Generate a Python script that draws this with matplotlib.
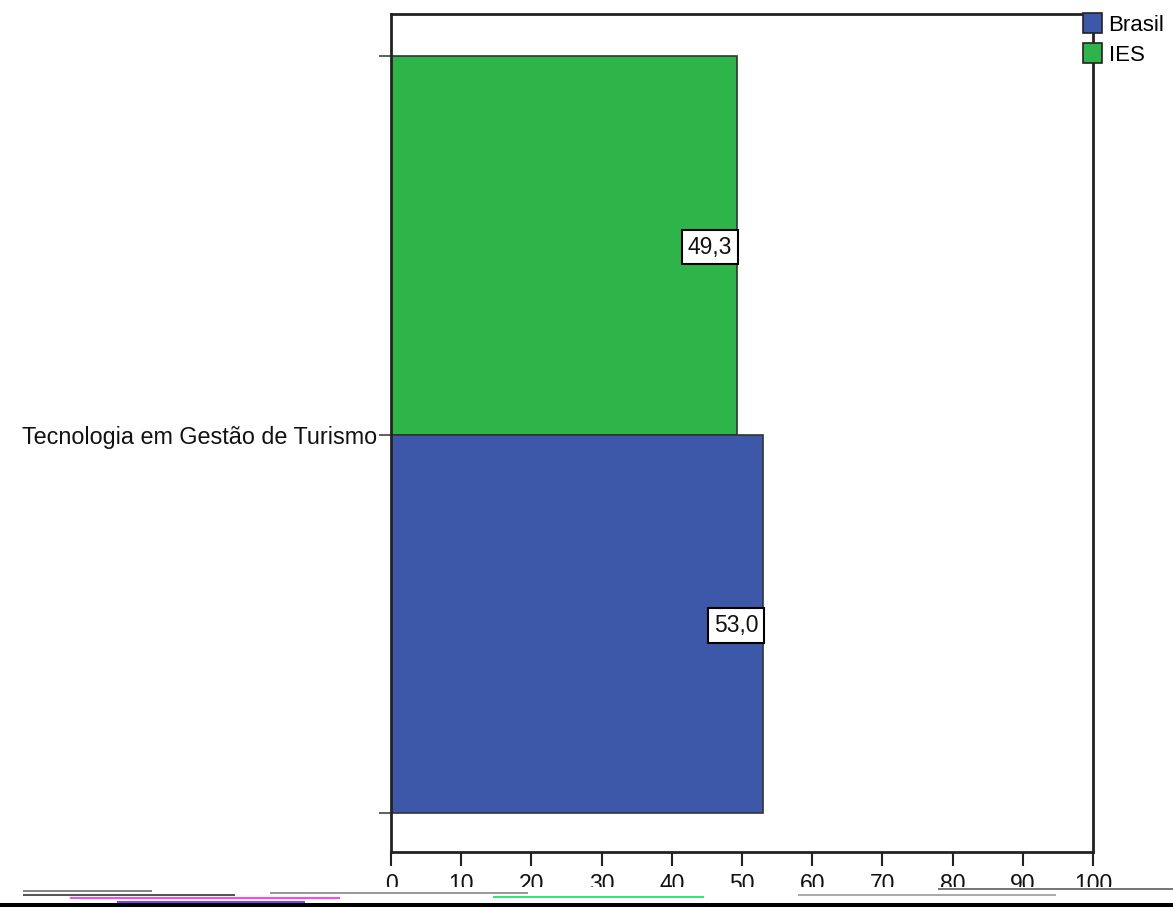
import matplotlib.pyplot as plt
from matplotlib.patches import Rectangle

plt.rcParams['font.family'] = ['Liberation Sans', 'DejaVu Sans']

categoria = "Tecnologia em Gestão de Turismo"
series = ["IES", "Brasil"]
valores = [49.3, 53.0]
cores = {"Brasil": "#3d57a9", "IES": "#2eb54a"}
xticks = [0, 10, 20, 30, 40, 50, 60, 70, 80, 90, 100]

fig = plt.figure(figsize=(11.73, 9.07), dpi=100)
ax = fig.add_axes([391 / 1173, 55 / 907, 702 / 1173, 838 / 907])

# barras: IES em cima, Brasil em baixo
posicoes = [1, 0]
for pos, nome, val in zip(posicoes, series, valores):
    ax.barh(pos, val, height=1.0, color=cores[nome], edgecolor="#333333", linewidth=1.2, zorder=2)
    ax.text(val - 0.7, pos - 0.005, ("%.1f" % val).replace(".", ","), ha="right", va="center", fontsize=16.5,
            color="#111111",
            bbox=dict(boxstyle="square,pad=0.25", facecolor="white", edgecolor="black", linewidth=1.5), zorder=3)

ax.set_xlim(0, 100)
ax.set_ylim(-0.603, 1.611)
ax.set_xticks(xticks)
ax.set_xticklabels([str(t) for t in xticks], fontsize=16.5, color="#111111")
ax.set_yticks([-0.5, 0.5, 1.5])
ax.set_yticklabels(["", categoria, ""], fontsize=16.8, color="#111111")
ax.tick_params(axis="x", length=10, width=1.5, pad=5, color="#222222")
ax.tick_params(axis="y", length=9, width=1.2, pad=1, color="#444444")
for s in ax.spines.values():
    s.set_linewidth(2)
    s.set_color("#222222")

# legenda no canto superior direito, sem moldura
handles = [Rectangle((0, 0), 1, 1, facecolor=cores[n], edgecolor="#222222", linewidth=1.2) for n in ["Brasil", "IES"]]
fig.legend(handles, ["Brasil", "IES"], loc="upper left", bbox_to_anchor=(1083 / 1173, 1 - 13 / 907),
           frameon=False, fontsize=16, handlelength=0.85, handleheight=1.0, handletextpad=0.3,
           labelspacing=0.35, borderpad=0, borderaxespad=0)

# faixa cortada no rodapé da imagem original
fig.patches.append(Rectangle((0, 0), 1, 20 / 907, transform=fig.transFigure, facecolor="white",
                             edgecolor="none", zorder=10))
faixas = [(0.02, 0.13, 15, "#888888"), (0.02, 0.2, 11, "#555555"), (0.23, 0.45, 13, "#999999"),
          (0.42, 0.6, 9, "#2ee87a"), (0.8, 1.0, 17, "#777777"), (0.68, 0.9, 11, "#aaaaaa"),
          (0.06, 0.29, 8, "#ff44ff"), (0.1, 0.26, 4, "#7a44ff")]
for x0, x1, y, cor in faixas:
    fig.patches.append(Rectangle((x0, y / 907), x1 - x0, 2.5 / 907, transform=fig.transFigure,
                                 facecolor=cor, edgecolor="none", zorder=11))
fig.patches.append(Rectangle((0, 0), 1, 4 / 907, transform=fig.transFigure, facecolor="black",
                             edgecolor="none", zorder=12))

plt.savefig("out.png", dpi=100)
